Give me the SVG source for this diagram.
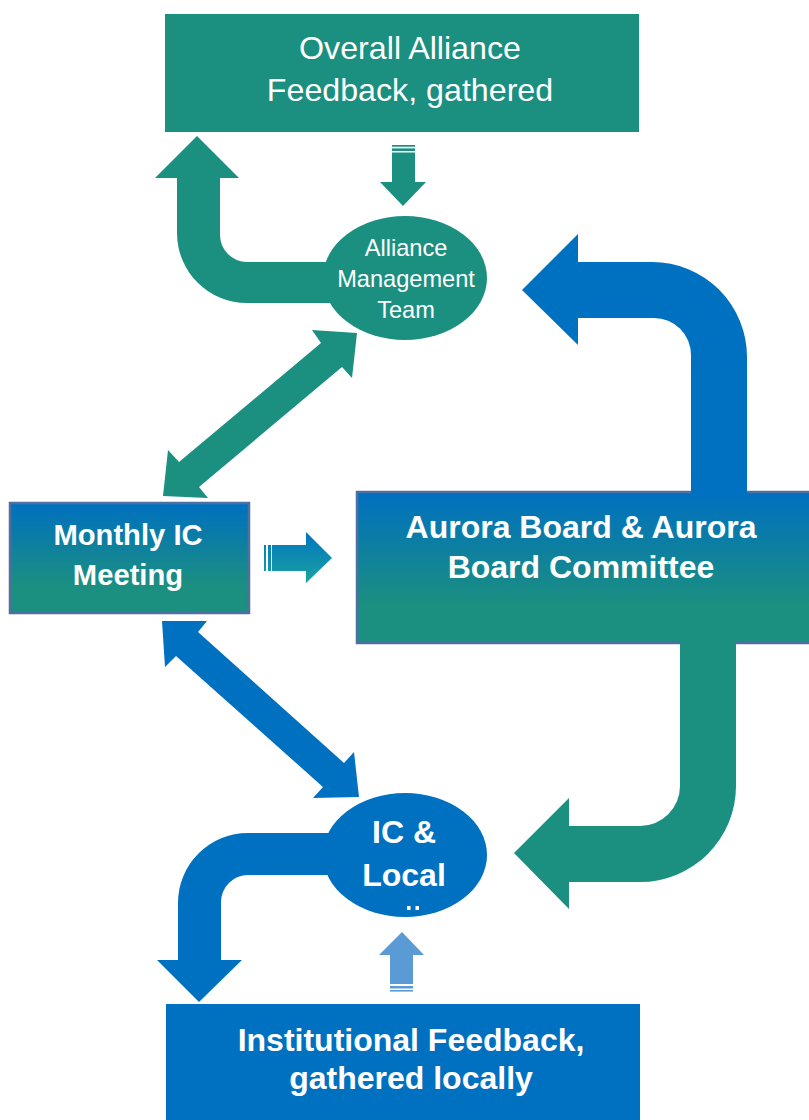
<svg xmlns="http://www.w3.org/2000/svg" width="809" height="1120" viewBox="0 0 809 1120">
<defs>
<linearGradient id="gBox" x1="0" y1="0" x2="0" y2="1">
<stop offset="0" stop-color="#0070C0"/>
<stop offset="0.75" stop-color="#1B8F80"/>
<stop offset="1" stop-color="#1B8F80"/>
</linearGradient>
<linearGradient id="gSmall" gradientUnits="userSpaceOnUse" x1="0" y1="532" x2="0" y2="583">
<stop offset="0" stop-color="#0074C0"/>
<stop offset="1" stop-color="#1BA3A0"/>
</linearGradient>
<style>
.teal{fill:#1B8F80}
.blue{fill:#0070C0}
.lblue{fill:#5B9BD5}
.t{font-family:"Liberation Sans",Arial,sans-serif;fill:#FFFFFF;text-anchor:middle}
.b{font-weight:bold}
.gbox{fill:url(#gBox);stroke:#4F6FA0;stroke-width:2.5}
</style>
</defs>

<g id="connectors">
<!-- top-left teal U arrow -->
<path class="teal" d="M197,136 L239,178 L220,178 L220,235 A27,27 0 0 0 247,262 L345,262 L345,303 L247,303 A70,70 0 0 1 177,233 L177,178 L155,178 Z"/>
<!-- small down arrow -->
<rect class="teal" x="392" y="145" width="23" height="1.7"/>
<rect class="teal" x="392" y="148.4" width="23" height="2.6"/>
<polygon class="teal" points="392,152.6 415,152.6 415,182 426,182 403,206 380,182 392,182"/>
<!-- teal diagonal double arrow -->
<polygon class="teal" points="357,333 352,378 342,367 199,487 208,498 163,496 168,450 179,462 321,343 312,330"/>
<!-- blue top-right U arrow -->
<path class="blue" d="M522,290 L578,234 L578,262 L652,262 A95,95 0 0 1 747,357 L747,500 L691,500 L691,355 A37,37 0 0 0 654,318 L578,318 L578,345 Z"/>
<!-- small gradient right arrow -->
<rect fill="url(#gSmall)" x="264" y="545" width="2" height="26"/>
<rect fill="url(#gSmall)" x="268" y="545" width="3" height="26"/>
<polygon fill="url(#gSmall)" points="272,545 306,545 306,532 332,558 306,583 306,571 272,571"/>
<!-- blue diagonal double arrow -->
<polygon class="blue" points="162,621 207,621 198,632 344,763 354,752 359,797 313,798 323,787 176,656 165,667"/>
<!-- teal bottom-right arrow -->
<path class="teal" d="M680,636 L736,636 L736,786 A96,96 0 0 1 640,882 L569,882 L569,909 L514,853 L569,798 L569,826 L640,826 A40,40 0 0 0 680,786 Z"/>
<!-- bottom-left blue U arrow -->
<path class="blue" d="M345,833 L248,833 A70,70 0 0 0 178,903 L178,960 L157,960 L199,1002 L242,960 L221,960 L221,902 A27,27 0 0 1 248,875 L345,875 Z"/>
<!-- small light-blue up arrow -->
<polygon class="lblue" points="402,932 424,955 413,955 413,984 390,984 390,955 379,955"/>
<rect class="lblue" x="390" y="986" width="23" height="2.5"/>
<rect class="lblue" x="390" y="990" width="23" height="1.6"/>
</g>

<g id="overall-feedback">
<rect class="teal" x="165" y="14" width="474" height="118"/>
<text class="t" x="410" y="59" font-size="32.2">Overall Alliance</text>
<text class="t" x="410" y="101" font-size="32.2">Feedback, gathered</text>
</g>

<g id="alliance-management-team">
<ellipse class="teal" cx="405" cy="278" rx="82" ry="62"/>
<text class="t" x="406" y="256" font-size="23.6">Alliance</text>
<text class="t" x="406" y="287" font-size="23.6">Management</text>
<text class="t" x="406" y="318" font-size="23.6">Team</text>
</g>

<g id="monthly-ic-meeting">
<rect class="gbox" x="10" y="503" width="239" height="110"/>
<text class="t b" x="128" y="545" font-size="29.2">Monthly IC</text>
<text class="t b" x="128" y="585" font-size="29.2">Meeting</text>
</g>

<g id="aurora-board">
<rect class="gbox" x="357" y="492" width="460" height="151"/>
<path class="blue" d="M691,488 L747,488 L747,496 L691,496 Z"/>
<path class="teal" d="M680,640 L736,640 L736,646 L680,646 Z"/>
<text class="t b" x="581" y="538" font-size="32">Aurora Board &amp; Aurora</text>
<text class="t b" x="581" y="578" font-size="32">Board Committee</text>
</g>

<g id="ic-local">
<ellipse class="blue" cx="405" cy="855" rx="82" ry="62"/>
<text class="t b" x="404" y="843" font-size="32">IC &amp;</text>
<text class="t b" x="404" y="886" font-size="32">Local</text>
<rect fill="#FFFFFF" x="407" y="906" width="3.5" height="4"/>
<rect fill="#FFFFFF" x="415.5" y="906" width="3.5" height="4"/>
</g>

<g id="institutional-feedback">
<rect class="blue" x="166" y="1004" width="474" height="116"/>
<text class="t b" x="411" y="1051" font-size="32">Institutional Feedback,</text>
<text class="t b" x="411" y="1089" font-size="32">gathered locally</text>
</g>
</svg>
